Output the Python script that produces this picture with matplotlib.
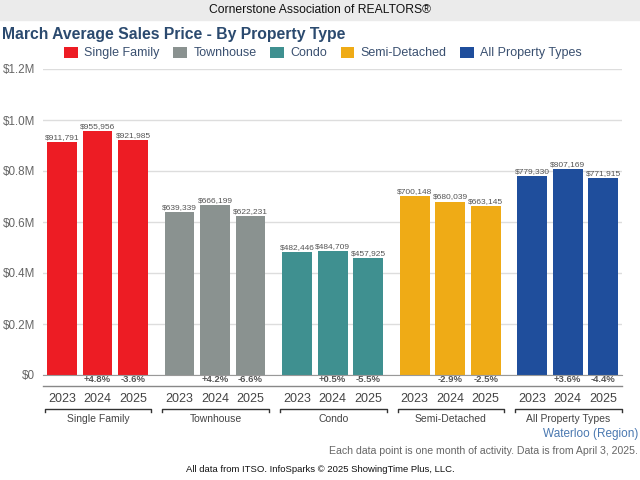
import numpy as np
import matplotlib.pyplot as plt
from matplotlib.transforms import blended_transform_factory
from matplotlib.patches import Rectangle

plt.rcParams['font.family'] = ['Liberation Sans', 'DejaVu Sans']

# data
groups = ['Single Family', 'Townhouse', 'Condo', 'Semi-Detached', 'All Property Types']
years = ['2023', '2024', '2025']
colors = ['#ED1C24', '#8A9290', '#3F9090', '#EFAB16', '#1F4E9C']
single_family = [911791, 955956, 921985]
townhouse = [639339, 666199, 622231]
condo = [482446, 484709, 457925]
semi_detached = [700148, 680039, 663145]
all_types = [779330, 807169, 771915]
changes = [['', '+4.8%', '-3.6%'],
           ['', '+4.2%', '-6.6%'],
           ['', '+0.5%', '-5.5%'],
           ['', '-2.9%', '-2.5%'],
           ['', '+3.6%', '-4.4%']]
values = [single_family, townhouse, condo, semi_detached, all_types]

W, H = 640, 480
fig = plt.figure(figsize=(6.4, 4.8), dpi=100)

def fy(py):  # pixel from top -> figure fraction
    return 1 - py / H

# header band
fig.patches.append(Rectangle((0, fy(20)), 1, 20 / H, transform=fig.transFigure,
                             color='#EBEBEB', zorder=0))
fig.text(0.5, fy(10), 'Cornerstone Association of REALTORS®', ha='center', va='center',
         fontsize=8.7, color='#111111')
fig.text(2 / W, fy(35), 'March Average Sales Price - By Property Type', ha='left', va='center',
         fontsize=11.3, fontweight='bold', color='#2B4A6F')

ax = fig.add_axes([43 / W, fy(375), (622 - 43) / W, (375 - 69) / H])
gstep = 3.31
width = 0.84
for g, (vals, col) in enumerate(zip(values, colors)):
    x = g * gstep + np.arange(3)
    ax.bar(x, vals, width=width, color=col, zorder=2, label=groups[g])
    for xi, v in zip(x, vals):
        ax.text(xi, v + 5000, f'${v:,}', ha='center', va='bottom', fontsize=6,
                color='#555555')

ax.set_xlim(-0.535, 15.77)
ax.set_ylim(0, 1.2e6)
ax.set_yticks(np.arange(0, 1.21e6, 0.2e6))
ax.set_yticklabels(['$0', '$0.2M', '$0.4M', '$0.6M', '$0.8M', '$1.0M', '$1.2M'])
ax.tick_params(axis='y', length=0, labelsize=8.4, labelcolor='#666666', pad=5.8)
ax.tick_params(axis='x', length=0, labelbottom=False)
ax.grid(axis='y', color='#DDDDDD', linewidth=1, zorder=0)
for s in ['top', 'right', 'left']:
    ax.spines[s].set_visible(False)
ax.spines['bottom'].set_color('#999999')

tr = blended_transform_factory(ax.transData, fig.transFigure)
for g in range(5):
    x0 = g * gstep
    for i in range(3):
        ax.text(x0 + i, fy(380), changes[g][i], transform=tr, ha='center', va='center',
                fontsize=6.8, fontweight='bold', color='#555555')
        ax.text(x0 + i, fy(399), years[i], transform=tr, ha='center', va='center',
                fontsize=9, color='#444444')
    bx = [x0 - 0.48, x0 - 0.48, x0 + 2.52, x0 + 2.52]
    by = [fy(412), fy(409), fy(409), fy(412)]
    ax.plot(bx, by, transform=tr, color='#333333', linewidth=1, clip_on=False)
    ax.text(x0 + 1.02, fy(418.5), groups[g], transform=tr, ha='center', va='center',
            fontsize=7.5, color='#444444')

# line under the change labels
ax.plot([0, 1], [fy(386), fy(386)], transform=blended_transform_factory(ax.transAxes, fig.transFigure),
        color='#888888', linewidth=1, clip_on=False)

fig.text(638 / W, fy(434), 'Waterloo (Region)', ha='right', va='center', fontsize=8.5,
         color='#4A78B0')
fig.text(638 / W, fy(451), 'Each data point is one month of activity. Data is from April 3, 2025.',
         ha='right', va='center', fontsize=7.6, color='#666666')
fig.text(0.5, fy(469), 'All data from ITSO. InfoSparks © 2025 ShowingTime Plus, LLC.',
         ha='center', va='center', fontsize=6.8, color='#111111')

fig.legend(loc='center', bbox_to_anchor=(0.505, fy(53)), ncol=5, frameon=False,
           fontsize=9, handlelength=1.1, handleheight=1.0, handletextpad=0.5,
           columnspacing=1.1, labelcolor='#3A5070')

fig.savefig('out.png', dpi=100)
